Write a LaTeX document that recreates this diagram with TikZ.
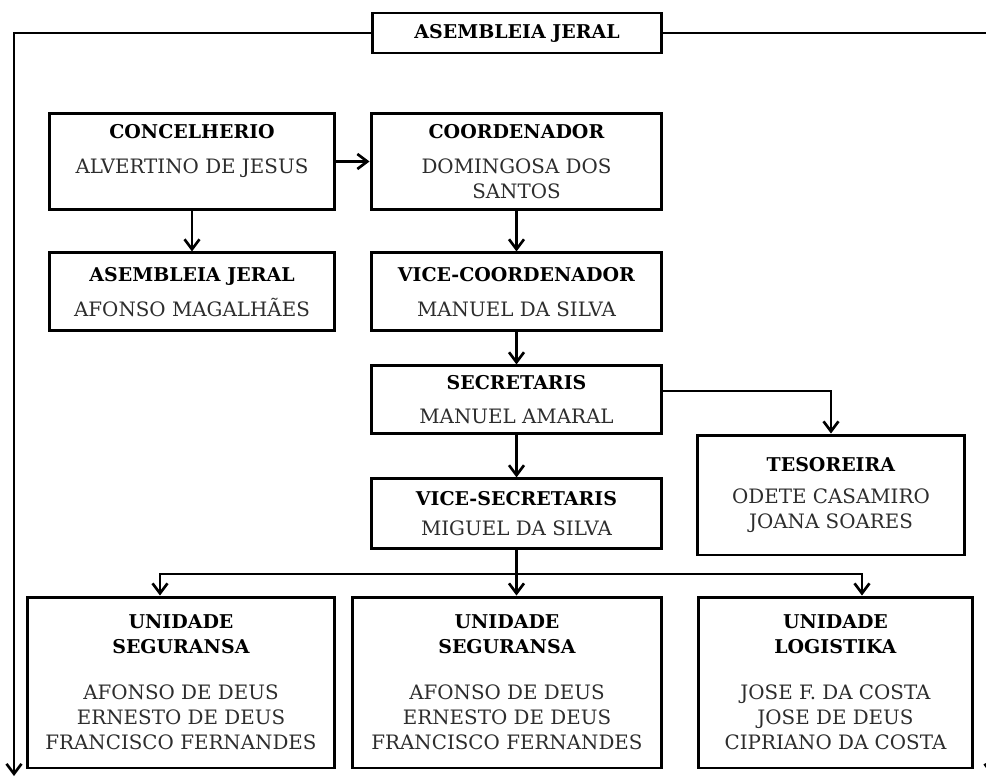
\documentclass[tikz,border=0pt]{standalone}
\usepackage{fontspec}
\setmainfont{DejaVu Serif}
\usetikzlibrary{
    arrows.meta,
    positioning,
    calc
}
\tikzset{
  box/.style = {draw, line width=1.7pt, align=center, inner sep=2pt,
                font=\fontsize{11.3}{14.2}\selectfont},
  arr/.style = {-{Straight Barb[length=2mm,width=3mm]}, line width=1.5pt},
  ln/.style  = {line width=1.5pt}
}
\definecolor{NameGray}{RGB}{45,45,45}
\newcommand{\hd}[1]{\textbf{\fontsize{10.8}{13.4}\selectfont #1}}
\newcommand{\nm}[1]{{\color{NameGray}#1}}

\begin{document}
\begin{tikzpicture}[x=0.02cm, y=-0.02cm]
\useasboundingbox (0,0) rectangle (986,777);
\node[box, minimum width=5.8cm, minimum height=0.8cm] (top) at (517,33) {\hd{ASEMBLEIA JERAL}};
\node[box, minimum width=5.72cm, minimum height=1.94cm] (conc) at (192,161.5)
  {\hd{CONCELHERIO}\\[6pt]\nm{ALVERTINO DE JESUS}\\ \phantom{X}};
\node[box, minimum width=5.82cm, minimum height=1.94cm] (coord) at (516.5,161.5)
  {\hd{COORDENADOR}\\[6pt]\nm{DOMINGOSA DOS}\\ \nm{SANTOS}};
\node[box, minimum width=5.72cm, minimum height=1.56cm, below=0.8cm of conc] (asm)
  {\hd{ASEMBLEIA JERAL}\\[6pt]\nm{AFONSO MAGALHÃES}};
\node[box, minimum width=5.8cm, minimum height=1.56cm, below=0.8cm of coord] (vcoord)
  {\hd{VICE-COORDENADOR}\\[6pt]\nm{MANUEL DA SILVA}};
\node[box, minimum width=5.8cm, minimum height=1.36cm, below=0.64cm of vcoord] (sec)
  {\hd{SECRETARIS}\\[5pt]\nm{MANUEL AMARAL}};
\node[box, minimum width=5.8cm, minimum height=1.4cm, below=0.84cm of sec] (vsec)
  {\hd{VICE-SECRETARIS}\\[3pt]\nm{MIGUEL DA SILVA}};
\node[box, minimum width=5.36cm, minimum height=2.4cm] (tes) at (831,495)
  {\hd{TESOREIRA}\\[4pt]\nm{ODETE CASAMIRO}\\ \nm{JOANA SOARES}};
\node[box, minimum width=6.16cm, minimum height=3.42cm] (u1) at (181,682.5)
  {\hd{UNIDADE}\\ \hd{SEGURANSA}\\[12pt]\nm{AFONSO DE DEUS}\\ \nm{ERNESTO DE DEUS}\\ \nm{FRANCISCO FERNANDES}};
\node[box, minimum width=6.2cm, minimum height=3.42cm] (u2) at (507,682.5)
  {\hd{UNIDADE}\\ \hd{SEGURANSA}\\[12pt]\nm{AFONSO DE DEUS}\\ \nm{ERNESTO DE DEUS}\\ \nm{FRANCISCO FERNANDES}};
\node[box, minimum width=5.5cm, minimum height=3.42cm] (u3) at (835.5,682.5)
  {\hd{UNIDADE}\\ \hd{LOGISTIKA}\\[12pt]\nm{JOSE F. DA COSTA}\\ \nm{JOSE DE DEUS}\\ \nm{CIPRIANO DA COSTA}};
\coordinate (lend) at (14,776);
\coordinate (rend) at (992,776);
\coordinate (bus) at (516.5,574);
\draw[arr] (top.west) -| (lend);
\draw[arr] (top.east) -| (rend);
\draw[arr] (conc) -- (coord);
\draw[arr] (conc) -- (asm);
\draw[arr] (coord) -- (vcoord);
\draw[arr] (vcoord) -- (sec);
\draw[arr] (sec) -- (vsec);
\draw[arr] ([yshift=0.18cm]sec.east) -| (tes);
\draw[ln] (vsec) -- (bus);
\draw[arr] (bus) -| ([xshift=-0.42cm]u1.north);
\draw[arr] (bus) -- (bus |- u2.north);
\draw[arr] (bus) -| ([xshift=0.53cm]u3.north);
\end{tikzpicture}
\end{document}
